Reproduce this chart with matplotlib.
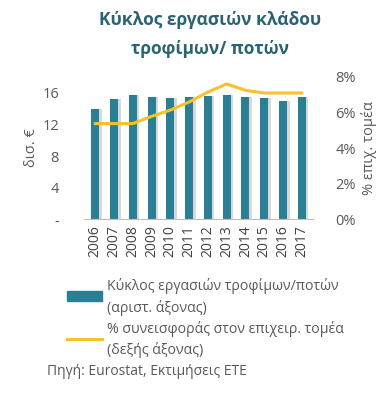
import matplotlib as mpl
mpl.use('Agg')
from matplotlib import pyplot as plt
from matplotlib.patches import Patch
from matplotlib.lines import Line2D
from matplotlib.ticker import FuncFormatter

plt.rcParams['font.family'] = ['Open Sans', 'DejaVu Sans']

years = ['2006', '2007', '2008', '2009', '2010', '2011',
         '2012', '2013', '2014', '2015', '2016', '2017']
turnover = [13.75, 15.0, 15.5, 15.25, 15.1, 15.25,
            15.4, 15.5, 15.3, 15.1, 14.7, 15.2]
share = [5.3, 5.3, 5.3, 5.7, 6.05, 6.5,
         7.05, 7.5, 7.15, 7.0, 7.0, 7.0]

bar_col = '#2b7f95'
line_col = '#f6c12b'
txt_col = '#595959'

fig = plt.figure(figsize=(3.89, 4.02), dpi=100)
ax = fig.add_axes([84 / 389, 182 / 402, 229 / 389, 144 / 402])
x = range(len(years))

# soft shadow behind the bars
ax.bar([i + 0.13 for i in x], turnover, width=0.44, color='#c8c8c8', alpha=0.7, zorder=1)
ax.bar(x, turnover, width=0.42, color=bar_col, zorder=2)
ax.set_ylim(0, 18)
ax.set_xlim(-0.6, len(years) - 0.4)
ax.set_yticks([0, 4, 8, 12, 16])
ax.yaxis.set_major_formatter(FuncFormatter(lambda v, p: '-' if v == 0 else '%d' % v))
ax.set_xticks(list(x))
ax.set_xticklabels(years, rotation=90, fontsize=10, color='#404040')
ax.tick_params(axis='y', length=0, labelsize=10.5, labelcolor=txt_col, pad=18)
ax.tick_params(axis='x', length=0, pad=4)
for s in ['top', 'right', 'left']:
    ax.spines[s].set_visible(False)
ax.spines['bottom'].set_color('#bfbfbf')
ax.set_ylabel('δισ. €', fontsize=10.5, color=txt_col, labelpad=2)

ax2 = ax.twinx()
ax2.plot(list(x), share, color=line_col, linewidth=2.2, zorder=3)
ax2.set_ylim(0, 8)
ax2.set_yticks([0, 2, 4, 6, 8])
ax2.yaxis.set_major_formatter(FuncFormatter(lambda v, p: '%d%%' % v))
ax2.tick_params(axis='y', length=0, labelsize=10.5, labelcolor=txt_col, pad=16)
for s in ['top', 'right', 'left', 'bottom']:
    ax2.spines[s].set_visible(False)
ax2.set_ylabel('% επιχ. τομέα', fontsize=10.5, color=txt_col, labelpad=4)

fig.text(0.54, 0.972, 'Κύκλος εργασιών κλάδου\nτροφίμων/ ποτών', ha='center', va='top',
         fontsize=12.5, fontweight='bold', color='#2a6373', linespacing=1.75)

handles = [Patch(color=bar_col), Line2D([], [], color=line_col, linewidth=2.2)]
labels = ['Κύκλος εργασιών τροφίμων/ποτών\n(αριστ. άξονας)',
          '% συνεισφοράς στον επιχειρ. τομέα\n(δεξής άξονας)']
leg = fig.legend(handles, labels, loc='upper left', bbox_to_anchor=(0.172, 0.308), frameon=False,
                 fontsize=10.2, labelcolor=txt_col, handlelength=2.5, handletextpad=0.35,
                 labelspacing=0.35, borderpad=0, borderaxespad=0)
for t in leg.get_texts():
    t.set_linespacing(1.45)

fig.text(0.12, 0.077, 'Πηγή: Eurostat, Εκτιμήσεις ΕΤΕ', fontsize=10, color=txt_col, va='center')

plt.savefig('out.png', dpi=100)
plt.close()
